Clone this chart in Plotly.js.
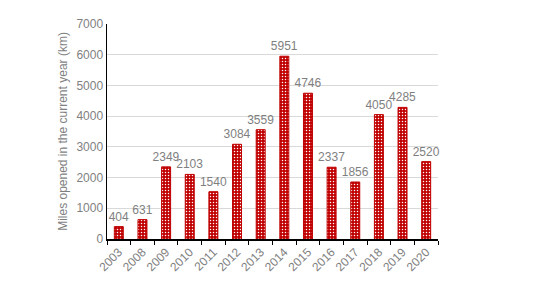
<!DOCTYPE html>
<html><head><meta charset="utf-8">
<script src="https://cdn.plot.ly/plotly-3.0.1.min.js"></script>
<style>html,body{margin:0;padding:0;background:#fff}#c{width:537px;height:295px}</style>
</head><body><div id="c"></div>
<script>
const years = ["2003","2008","2009","2010","2011","2012","2013","2014","2015","2016","2017","2018","2019","2020"];
const miles = [404,631,2349,2103,1540,3084,3559,5951,4746,2337,1856,4050,4285,2520];
const yTitle = "Miles opened in the current year (km)";

const gray = "#7f7f7f";
Plotly.newPlot("c", [{
  type: "bar",
  x: years,
  y: miles,
  text: miles.map(String),
  textposition: "outside",
  constraintext: "none",
  cliponaxis: false,
  textfont: {color: gray, size: 12, family: "Liberation Sans, Arial, sans-serif"},
  marker: {
    color: "#c00000",
    line: {color: "#c00000", width: 1},
    pattern: {shape: ".", fgcolor: "#ffffff", bgcolor: "#c00000", size: 3, solidity: 0.2}
  },
  hoverinfo: "none"
}], {
  width: 537, height: 295,
  margin: {l: 107, r: 99, t: 24, b: 56},
  paper_bgcolor: "#fff", plot_bgcolor: "#fff",
  bargap: 0.62,
  showlegend: false,
  font: {family: "Liberation Sans, Arial, sans-serif", color: gray},
  xaxis: {
    type: "category",
    tickangle: -45,
    tickfont: {size: 12, color: gray},
    showline: true, linecolor: "#000", linewidth: 1.5,
    ticks: "outside", tickson: "boundaries", ticklen: 4, tickcolor: "#000",
    showgrid: false, zeroline: false
  },
  yaxis: {
    range: [0, 7000], dtick: 1000,
    tickfont: {size: 12, color: gray},
    showline: true, linecolor: "#000", linewidth: 1.5,
    ticks: "", ticklen: 0,
    showgrid: true, gridcolor: "#d9d9d9", gridwidth: 1,
    zeroline: false,
    title: {text: yTitle, font: {size: 12, color: gray}, standoff: 6}
  }
}, {staticPlot: true});
</script></body></html>
